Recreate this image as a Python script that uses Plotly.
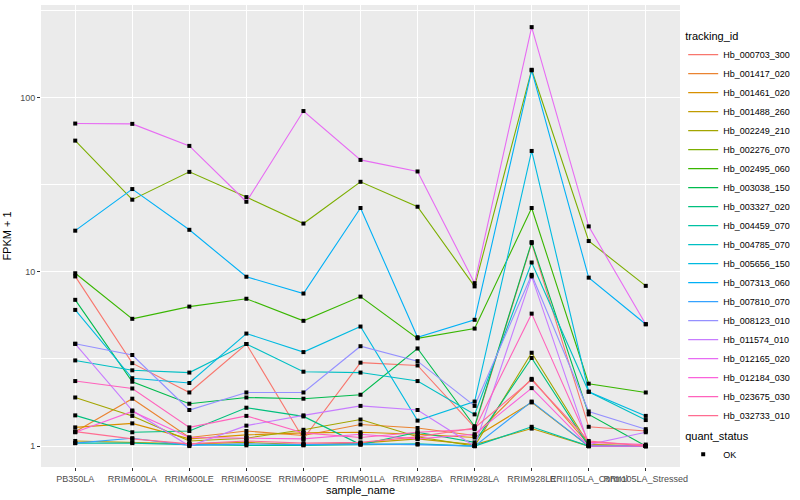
import plotly.graph_objects as go

samples = ["PB350LA", "RRIM600LA", "RRIM600LE", "RRIM600SE", "RRIM600PE", "RRIM901LA",
           "RRIM928BA", "RRIM928LA", "RRIM928LE", "RRII105LA_Control", "RRII105LA_Stressed"]

tracking_ids = ["Hb_000703_300", "Hb_001417_020", "Hb_001461_020", "Hb_001488_260", "Hb_002249_210",
                "Hb_002276_070", "Hb_002495_060", "Hb_003038_150", "Hb_003327_020", "Hb_004459_070",
                "Hb_004785_070", "Hb_005656_150", "Hb_007313_060", "Hb_007810_070", "Hb_008123_010",
                "Hb_011574_010", "Hb_012165_020", "Hb_012184_030", "Hb_023675_030", "Hb_032733_010"]

colors = ["#F8766D", "#EA8331", "#D89000", "#C09B00", "#A3A500", "#7CAE00", "#39B600", "#00BB4E",
          "#00BF7D", "#00C1A3", "#00BFC4", "#00BAE0", "#00B0F6", "#35A2FF", "#9590FF", "#C77CFF",
          "#E76BF3", "#FA62DB", "#FF62BC", "#FF6C91"]

# FPKM + 1 values per tracking id, in sample order
Hb_000703_300 = [9.4, 2.99, 2.03, 3.85, 1.10, 3.01, 2.90, 1.28, 14.6, 1.29, 1.22]
Hb_001417_020 = [1.21, 1.87, 1.12, 1.22, 1.15, 1.33, 1.27, 1.15, 2.43, 1.02, 1.0]
Hb_001461_020 = [1.28, 1.35, 1.10, 1.16, 1.19, 1.20, 1.17, 1.12, 1.78, 1.0, 1.0]
Hb_001488_260 = [1.07, 1.05, 1.03, 1.05, 1.02, 1.04, 1.10, 1.02, 1.26, 1.0, 1.0]
Hb_002249_210 = [1.90, 1.49, 1.07, 1.11, 1.24, 1.42, 1.13, 1.0, 3.43, 1.02, 1.0]
Hb_002276_070 = [56.5, 25.9, 37.4, 26.8, 18.9, 32.8, 23.6, 8.24, 144, 15.0, 8.3]
Hb_002495_060 = [9.8, 5.37, 6.31, 7.0, 5.23, 7.2, 4.15, 4.72, 23.2, 2.28, 2.03]
Hb_003038_150 = [6.9, 2.34, 1.75, 1.90, 1.87, 1.97, 3.63, 1.30, 14.8, 1.52, 1.0]
Hb_003327_020 = [1.50, 1.20, 1.22, 1.66, 1.48, 1.02, 1.20, 1.05, 3.20, 1.0, 1.0]
Hb_004459_070 = [1.04, 1.04, 1.02, 1.01, 1.01, 1.02, 1.03, 1.0, 1.29, 1.0, 1.0]
Hb_004785_070 = [3.1, 2.72, 2.64, 3.85, 2.67, 2.64, 2.36, 1.52, 11.3, 2.05, 1.41]
Hb_005656_150 = [6.04, 2.45, 2.30, 4.42, 3.46, 4.85, 1.40, 1.80, 49.3, 2.05, 1.49]
Hb_007313_060 = [17.2, 29.8, 17.4, 9.36, 7.5, 23.2, 4.21, 5.3, 143, 9.25, 5.0]
Hb_007810_070 = [1.04, 1.11, 1.01, 1.03, 1.02, 1.03, 1.02, 1.0, 1.80, 1.0, 1.0]
Hb_008123_010 = [3.86, 3.33, 1.61, 2.03, 2.03, 3.74, 3.07, 1.70, 9.6, 1.58, 1.25]
Hb_011574_010 = [3.86, 1.60, 1.0, 1.31, 1.50, 1.70, 1.61, 1.0, 9.4, 1.02, 1.2]
Hb_012165_020 = [70.8, 70.5, 52.7, 25.2, 83.5, 43.8, 37.6, 8.6, 253, 18.2, 5.0]
Hb_012184_030 = [1.20, 1.58, 1.12, 1.11, 1.10, 1.17, 1.10, 1.17, 2.15, 1.0, 1.0]
Hb_023675_030 = [2.36, 2.14, 1.28, 1.49, 1.19, 1.12, 1.20, 1.25, 5.75, 1.05, 1.02]
Hb_032733_010 = [1.21, 1.10, 1.03, 1.07, 1.04, 1.05, 1.13, 1.27, 2.40, 1.07, 1.0]

series = [Hb_000703_300, Hb_001417_020, Hb_001461_020, Hb_001488_260, Hb_002249_210,
          Hb_002276_070, Hb_002495_060, Hb_003038_150, Hb_003327_020, Hb_004459_070,
          Hb_004785_070, Hb_005656_150, Hb_007313_060, Hb_007810_070, Hb_008123_010,
          Hb_011574_010, Hb_012165_020, Hb_012184_030, Hb_023675_030, Hb_032733_010]

y_ticks = [1, 10, 100]
y_minor = [3.1623, 31.623, 316.23]

FONT = "Liberation Sans, Arial, sans-serif"

fig = go.Figure()

for name, col, vals in zip(tracking_ids, colors, series):
    fig.add_trace(go.Scatter(x=samples, y=vals, mode="lines", name=name,
                             line=dict(color=col, width=1.1), legend="legend"))

# points (quant_status = OK)
for vals in series:
    fig.add_trace(go.Scatter(x=samples, y=vals, mode="markers", showlegend=False,
                             marker=dict(color="black", size=4, symbol="square"),
                             hoverinfo="skip"))

fig.add_trace(go.Scatter(x=[None], y=[None], mode="markers", name="OK",
                         marker=dict(color="black", size=4, symbol="square"),
                         legend="legend2"))

fig.update_layout(
    width=800, height=500,
    margin=dict(l=41, r=116, t=5, b=33),
    paper_bgcolor="white", plot_bgcolor="#EBEBEB",
    font=dict(family=FONT, size=9, color="#4D4D4D"),
    showlegend=True,
    legend=dict(
        title=dict(text="tracking_id", font=dict(size=11, color="black")),
        x=1.005, xanchor="left", y=0.955, yanchor="top",
        font=dict(size=9, color="black"), itemwidth=30, tracegroupgap=0,
        bgcolor="rgba(0,0,0,0)",
    ),
    legend2=dict(
        title=dict(text="quant_status", font=dict(size=11, color="black")),
        x=1.005, xanchor="left", y=0.09, yanchor="top",
        font=dict(size=9, color="black"), itemwidth=30,
        bgcolor="rgba(0,0,0,0)",
    ),
    xaxis=dict(
        type="category", range=[-0.6, 10.6], tickangle=0,
        showgrid=True, gridcolor="white", gridwidth=1.1,
        ticks="outside", ticklen=3, tickcolor="#333333",
        tickfont=dict(size=9, color="#4D4D4D"),
        showline=False, zeroline=False,
        title=dict(text="sample_name", font=dict(size=11, color="black"), standoff=2),
    ),
    yaxis=dict(
        type="log", range=[-0.12, 2.53],
        tickmode="array", tickvals=y_ticks, ticktext=[str(v) for v in y_ticks],
        showgrid=True, gridcolor="white", gridwidth=1.1,
        minor=dict(tickmode="array", tickvals=y_minor, showgrid=True,
                   gridcolor="white", gridwidth=0.5, ticks=""),
        ticks="outside", ticklen=3, tickcolor="#333333",
        tickfont=dict(size=9, color="#4D4D4D"),
        showline=False, zeroline=False,
        title=dict(text="FPKM + 1", font=dict(size=11, color="black"), standoff=6),
    ),
)

fig.write_html("out.html", config={"displayModeBar": False},
               post_script="document.body.style.margin='0px';document.body.style.overflow='hidden';")
